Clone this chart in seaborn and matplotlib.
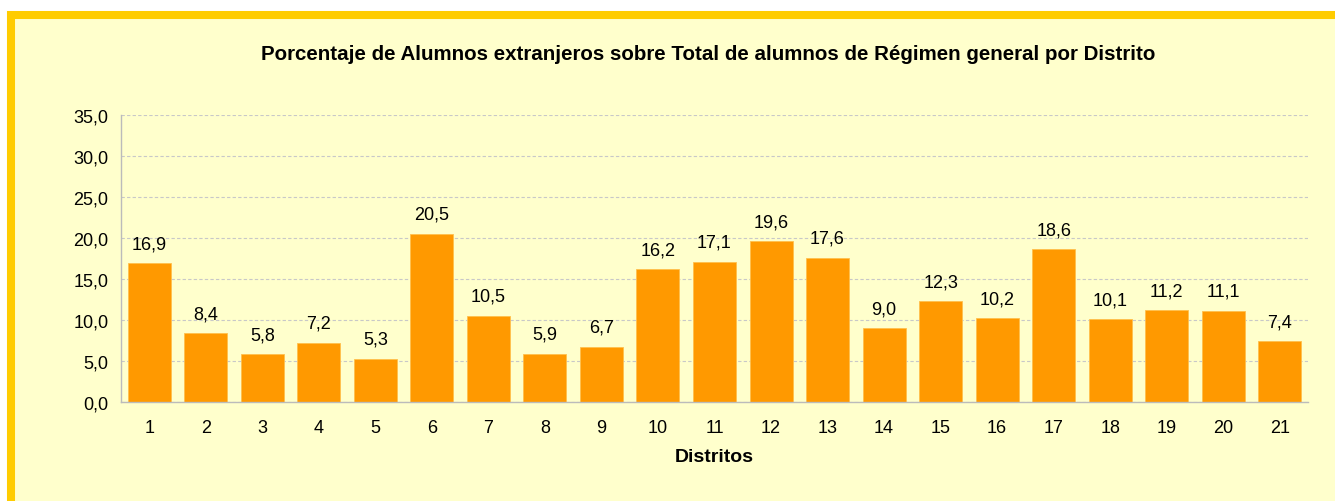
import matplotlib
matplotlib.use("Agg")
import matplotlib.pyplot as plt
import seaborn as sns
import pandas as pd
from matplotlib.patches import Rectangle
from matplotlib.ticker import MultipleLocator, FuncFormatter

# Values
distritos = [str(i) for i in range(1, 22)]
porcentaje = [16.9, 8.4, 5.8, 7.2, 5.3, 20.5, 10.5, 5.9, 6.7, 16.2, 17.1,
              19.6, 17.6, 9.0, 12.3, 10.2, 18.6, 10.1, 11.2, 11.1, 7.4]

df = pd.DataFrame({'Distrito': distritos, 'Porcentaje': porcentaje})

sns.set_style('white')
plt.rcParams['font.family'] = ['Liberation Sans', 'DejaVu Sans']
plt.rcParams['text.color'] = 'black'
plt.rcParams['axes.labelcolor'] = 'black'
plt.rcParams['xtick.labelcolor'] = 'black'
plt.rcParams['ytick.labelcolor'] = 'black'

fig = plt.figure(figsize=(13.35, 5.02), dpi=100)
fig.patch.set_facecolor('white')

# yellow frame around the chart area (cut off at right and bottom)
frame = Rectangle((11 / 1335, -0.05), 1.1, 1 - 16 / 502 + 0.05,
                  transform=fig.transFigure, facecolor='#FFFFCC',
                  edgecolor='#FFCC00', linewidth=5.8, zorder=-1)
fig.patches.append(frame)

ax = fig.add_axes([121 / 1335, 1 - 403 / 502, 1187 / 1335, 287 / 502])
ax.set_facecolor('none')
ax.set_zorder(2)

sns.barplot(data=df, x='Distrito', y='Porcentaje', color='#FF9900',
            width=0.76, edgecolor='#FFC04D', linewidth=0.6,
            saturation=1, ax=ax, zorder=2)

for i, v in enumerate(porcentaje):
    ax.annotate(f'{v:.1f}'.replace('.', ','), (i, v), xytext=(0, 8),
                textcoords='offset points', ha='center', va='bottom',
                fontsize=13, color='black')

ax.set_ylim(0, 35)
ax.set_xlim(-0.5, len(distritos) - 0.5)
ax.yaxis.set_major_locator(MultipleLocator(5))
ax.yaxis.set_major_formatter(FuncFormatter(lambda v, p: f'{v:.1f}'.replace('.', ',')))
ax.yaxis.grid(True, color='#C8C8C8', linestyle=(0, (3, 2)), linewidth=0.8, zorder=0)
ax.set_axisbelow(True)

ax.set_xticks(range(len(distritos)))
ax.set_xticks([i - 0.5 for i in range(len(distritos) + 1)], minor=True)
ax.tick_params(axis='x', which='major', length=0, pad=12, labelsize=13)
ax.tick_params(axis='x', which='minor', length=5, color='#BBBBBB', width=1)
ax.tick_params(axis='y', length=5, color='#BBBBBB', width=1, labelsize=13, pad=4)

for s in ['top', 'right']:
    ax.spines[s].set_visible(False)
for s in ['left', 'bottom']:
    ax.spines[s].set_color('#BBBBBB')
    ax.spines[s].set_linewidth(1)

ax.set_xlabel('Distritos', fontsize=14, fontweight='bold', labelpad=9)
ax.set_ylabel('')

fig.text(708 / 1335, 1 - 54 / 502,
         'Porcentaje de Alumnos extranjeros sobre Total de alumnos de Régimen general por Distrito',
         ha='center', va='center', fontsize=14.8, fontweight='bold')

fig.savefig('out.png', dpi=100, facecolor=fig.get_facecolor())
